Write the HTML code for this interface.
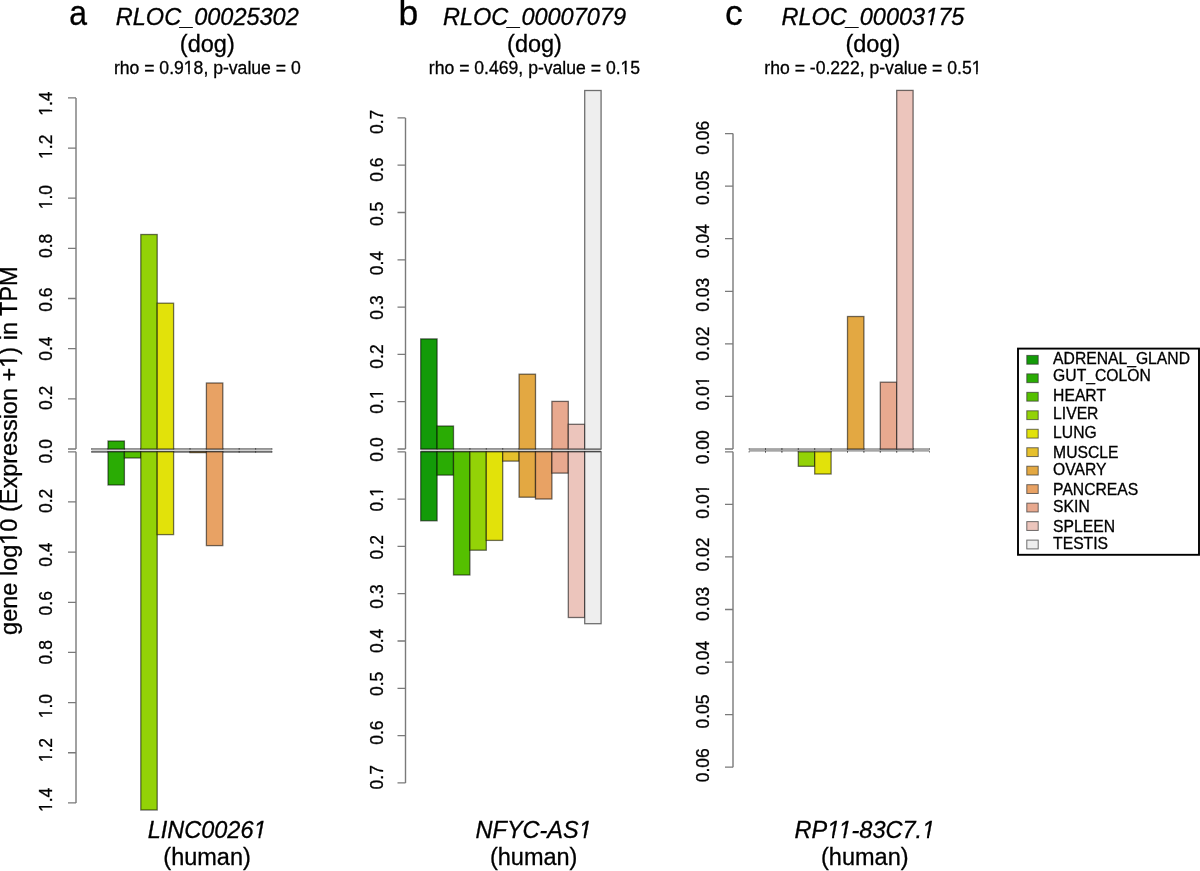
<!DOCTYPE html><html><head><meta charset="utf-8"><style>html,body{margin:0;padding:0;background:#fff;}svg{display:block;will-change:transform;}text{font-family:"Liberation Sans",sans-serif;fill:#000;stroke:#000;stroke-width:0.3px;}</style></head><body>
<svg width="1200" height="871" viewBox="0 0 1200 871">
<rect x="0" y="0" width="1200" height="871" fill="#fff"/>
<text transform="translate(17.3,450.6) rotate(-90)" text-anchor="middle" font-size="23.5">gene log10 (Expression +1) in TPM</text>
<path d="M76.00,97.88V449.00M76.00,451.80V802.92" stroke="#7a7a7a" stroke-width="1.4" fill="none"/>
<path d="M68.00,449.00H76.00M68.00,451.80H76.00M68.00,398.84H76.00M68.00,501.96H76.00M68.00,348.68H76.00M68.00,552.12H76.00M68.00,298.52H76.00M68.00,602.28H76.00M68.00,248.36H76.00M68.00,652.44H76.00M68.00,198.20H76.00M68.00,702.60H76.00M68.00,148.04H76.00M68.00,752.76H76.00M68.00,97.88H76.00M68.00,802.92H76.00" stroke="#7a7a7a" stroke-width="1.3" fill="none"/>
<text transform="translate(52.00,451.30) rotate(-90)" text-anchor="middle" font-size="17.5">0.0</text>
<text transform="translate(52.00,397.90) rotate(-90)" text-anchor="middle" font-size="17.5">0.2</text>
<text transform="translate(52.00,500.90) rotate(-90)" text-anchor="middle" font-size="17.5">0.2</text>
<text transform="translate(52.00,348.60) rotate(-90)" text-anchor="middle" font-size="17.5">0.4</text>
<text transform="translate(52.00,554.70) rotate(-90)" text-anchor="middle" font-size="17.5">0.4</text>
<text transform="translate(52.00,299.70) rotate(-90)" text-anchor="middle" font-size="17.5">0.6</text>
<text transform="translate(52.00,603.30) rotate(-90)" text-anchor="middle" font-size="17.5">0.6</text>
<text transform="translate(52.00,245.90) rotate(-90)" text-anchor="middle" font-size="17.5">0.8</text>
<text transform="translate(52.00,652.30) rotate(-90)" text-anchor="middle" font-size="17.5">0.8</text>
<text transform="translate(52.00,197.10) rotate(-90)" text-anchor="middle" font-size="17.5">1.0</text>
<text transform="translate(52.00,706.10) rotate(-90)" text-anchor="middle" font-size="17.5">1.0</text>
<text transform="translate(52.00,146.80) rotate(-90)" text-anchor="middle" font-size="17.5">1.2</text>
<text transform="translate(52.00,750.20) rotate(-90)" text-anchor="middle" font-size="17.5">1.2</text>
<text transform="translate(52.00,103.70) rotate(-90)" text-anchor="middle" font-size="17.5">1.4</text>
<text transform="translate(52.00,799.90) rotate(-90)" text-anchor="middle" font-size="17.5">1.4</text>
<path d="M91.60,449.00H272.00" stroke="#707070" stroke-width="1.6" fill="none"/>
<path d="M91.60,451.90H272.00" stroke="#6e6e6e" stroke-width="1.6" fill="none"/>
<path d="M91.60,448.20V449.80M108.00,448.20V449.80M124.40,448.20V449.80M140.80,448.20V449.80M173.60,448.20V449.80M190.00,448.20V449.80M190.00,448.20V449.80M206.40,448.20V449.80M222.80,448.20V449.80M239.20,448.20V449.80M239.20,448.20V449.80M255.60,448.20V449.80M255.60,448.20V449.80M272.00,448.20V449.80M91.60,451.00V452.60M108.00,451.00V452.60M173.60,451.00V452.60M190.00,451.00V452.60M222.80,451.00V452.60M239.20,451.00V452.60M239.20,451.00V452.60M255.60,451.00V452.60M255.60,451.00V452.60M272.00,451.00V452.60" stroke="#333" stroke-opacity="0.6" stroke-width="1" fill="none"/>
<rect x="108.00" y="441.00" width="16.40" height="8.00" fill="#2AAC04" stroke="#000" stroke-opacity="0.55" stroke-width="1.3"/>
<rect x="108.00" y="451.80" width="16.40" height="33.20" fill="#2AAC04" stroke="#000" stroke-opacity="0.55" stroke-width="1.3"/>
<rect x="124.40" y="451.80" width="16.40" height="6.20" fill="#55C000" stroke="#000" stroke-opacity="0.55" stroke-width="1.3"/>
<rect x="140.80" y="234.50" width="16.40" height="214.50" fill="#93D207" stroke="#000" stroke-opacity="0.55" stroke-width="1.3"/>
<rect x="140.80" y="451.80" width="16.40" height="358.20" fill="#93D207" stroke="#000" stroke-opacity="0.55" stroke-width="1.3"/>
<rect x="157.20" y="303.20" width="16.40" height="145.80" fill="#E2E20A" stroke="#000" stroke-opacity="0.55" stroke-width="1.3"/>
<rect x="157.20" y="451.80" width="16.40" height="82.80" fill="#E2E20A" stroke="#000" stroke-opacity="0.55" stroke-width="1.3"/>
<rect x="190.00" y="451.80" width="16.40" height="0.80" fill="#E3A842" stroke="#000" stroke-opacity="0.55" stroke-width="1.3"/>
<rect x="206.40" y="383.00" width="16.40" height="66.00" fill="#E8A264" stroke="#000" stroke-opacity="0.55" stroke-width="1.3"/>
<rect x="206.40" y="451.80" width="16.40" height="93.80" fill="#E8A264" stroke="#000" stroke-opacity="0.55" stroke-width="1.3"/>
<rect x="91.60" y="449.8" width="180.40" height="1.2" fill="#d2d2d2"/>
<text transform="translate(69.20,25.3) scale(0.9,1)" font-size="35.5">a</text>
<text x="207.30" y="24.6" text-anchor="middle" font-size="23.5" font-style="italic">RLOC_00025302</text>
<text x="207.30" y="51.9" text-anchor="middle" font-size="23.5">(dog)</text>
<text x="207.30" y="74" text-anchor="middle" font-size="17.6">rho = 0.918, p-value = 0</text>
<text x="207.10" y="838" text-anchor="middle" font-size="23.5" font-style="italic">LINC00261</text>
<text x="207.10" y="865" text-anchor="middle" font-size="23.5">(human)</text>
<path d="M405.50,117.90V449.00M405.50,451.80V782.90" stroke="#7a7a7a" stroke-width="1.4" fill="none"/>
<path d="M397.50,449.00H405.50M397.50,451.80H405.50M397.50,401.70H405.50M397.50,499.10H405.50M397.50,354.40H405.50M397.50,546.40H405.50M397.50,307.10H405.50M397.50,593.70H405.50M397.50,259.80H405.50M397.50,641.00H405.50M397.50,212.50H405.50M397.50,688.30H405.50M397.50,165.20H405.50M397.50,735.60H405.50M397.50,117.90H405.50M397.50,782.90H405.50" stroke="#7a7a7a" stroke-width="1.3" fill="none"/>
<text transform="translate(383.00,449.50) rotate(-90)" text-anchor="middle" font-size="17.5">0.0</text>
<text transform="translate(383.00,401.50) rotate(-90)" text-anchor="middle" font-size="17.5">0.1</text>
<text transform="translate(383.00,499.30) rotate(-90)" text-anchor="middle" font-size="17.5">0.1</text>
<text transform="translate(383.00,356.50) rotate(-90)" text-anchor="middle" font-size="17.5">0.2</text>
<text transform="translate(383.00,547.30) rotate(-90)" text-anchor="middle" font-size="17.5">0.2</text>
<text transform="translate(383.00,307.50) rotate(-90)" text-anchor="middle" font-size="17.5">0.3</text>
<text transform="translate(383.00,596.50) rotate(-90)" text-anchor="middle" font-size="17.5">0.3</text>
<text transform="translate(383.00,263.20) rotate(-90)" text-anchor="middle" font-size="17.5">0.4</text>
<text transform="translate(383.00,640.90) rotate(-90)" text-anchor="middle" font-size="17.5">0.4</text>
<text transform="translate(383.00,213.90) rotate(-90)" text-anchor="middle" font-size="17.5">0.5</text>
<text transform="translate(383.00,683.90) rotate(-90)" text-anchor="middle" font-size="17.5">0.5</text>
<text transform="translate(383.00,169.70) rotate(-90)" text-anchor="middle" font-size="17.5">0.6</text>
<text transform="translate(383.00,732.70) rotate(-90)" text-anchor="middle" font-size="17.5">0.6</text>
<text transform="translate(383.00,121.90) rotate(-90)" text-anchor="middle" font-size="17.5">0.7</text>
<text transform="translate(383.00,777.30) rotate(-90)" text-anchor="middle" font-size="17.5">0.7</text>
<path d="M420.70,449.00H601.10" stroke="#707070" stroke-width="1.6" fill="none"/>
<path d="M420.70,451.90H601.10" stroke="#6e6e6e" stroke-width="1.6" fill="none"/>
<path d="M453.50,448.20V449.80M469.90,448.20V449.80M469.90,448.20V449.80M486.30,448.20V449.80M486.30,448.20V449.80M502.70,448.20V449.80M502.70,448.20V449.80M519.10,448.20V449.80M535.50,448.20V449.80M551.90,448.20V449.80" stroke="#333" stroke-opacity="0.6" stroke-width="1" fill="none"/>
<rect x="420.70" y="338.90" width="16.40" height="110.10" fill="#139B08" stroke="#000" stroke-opacity="0.55" stroke-width="1.3"/>
<rect x="420.70" y="451.80" width="16.40" height="69.00" fill="#139B08" stroke="#000" stroke-opacity="0.55" stroke-width="1.3"/>
<rect x="437.10" y="426.00" width="16.40" height="23.00" fill="#2AAC04" stroke="#000" stroke-opacity="0.55" stroke-width="1.3"/>
<rect x="437.10" y="451.80" width="16.40" height="23.30" fill="#2AAC04" stroke="#000" stroke-opacity="0.55" stroke-width="1.3"/>
<rect x="453.50" y="451.80" width="16.40" height="123.20" fill="#55C000" stroke="#000" stroke-opacity="0.55" stroke-width="1.3"/>
<rect x="469.90" y="451.80" width="16.40" height="98.40" fill="#93D207" stroke="#000" stroke-opacity="0.55" stroke-width="1.3"/>
<rect x="486.30" y="451.80" width="16.40" height="88.60" fill="#E2E20A" stroke="#000" stroke-opacity="0.55" stroke-width="1.3"/>
<rect x="502.70" y="451.80" width="16.40" height="9.30" fill="#E6C02C" stroke="#000" stroke-opacity="0.55" stroke-width="1.3"/>
<rect x="519.10" y="374.20" width="16.40" height="74.80" fill="#E3A842" stroke="#000" stroke-opacity="0.55" stroke-width="1.3"/>
<rect x="519.10" y="451.80" width="16.40" height="45.40" fill="#E3A842" stroke="#000" stroke-opacity="0.55" stroke-width="1.3"/>
<rect x="535.50" y="451.80" width="16.40" height="47.20" fill="#E8A264" stroke="#000" stroke-opacity="0.55" stroke-width="1.3"/>
<rect x="551.90" y="401.40" width="16.40" height="47.60" fill="#E8A98F" stroke="#000" stroke-opacity="0.55" stroke-width="1.3"/>
<rect x="551.90" y="451.80" width="16.40" height="21.30" fill="#E8A98F" stroke="#000" stroke-opacity="0.55" stroke-width="1.3"/>
<rect x="568.30" y="424.30" width="16.40" height="24.70" fill="#ECC5BC" stroke="#000" stroke-opacity="0.55" stroke-width="1.3"/>
<rect x="568.30" y="451.80" width="16.40" height="165.70" fill="#ECC5BC" stroke="#000" stroke-opacity="0.55" stroke-width="1.3"/>
<rect x="584.70" y="90.50" width="16.40" height="358.50" fill="#EEEEEE" stroke="#000" stroke-opacity="0.55" stroke-width="1.3"/>
<rect x="584.70" y="451.80" width="16.40" height="171.90" fill="#EEEEEE" stroke="#000" stroke-opacity="0.55" stroke-width="1.3"/>
<rect x="420.70" y="449.8" width="180.40" height="1.2" fill="#d2d2d2"/>
<text transform="translate(398.50,25.3) scale(1.0,1)" font-size="35.5">b</text>
<text x="534.50" y="24.6" text-anchor="middle" font-size="23.5" font-style="italic">RLOC_00007079</text>
<text x="534.50" y="51.9" text-anchor="middle" font-size="23.5">(dog)</text>
<text x="534.50" y="74" text-anchor="middle" font-size="17.6">rho = 0.469, p-value = 0.15</text>
<text x="533.70" y="838" text-anchor="middle" font-size="23.5" font-style="italic">NFYC-AS1</text>
<text x="533.70" y="865" text-anchor="middle" font-size="23.5">(human)</text>
<path d="M733.00,133.58V449.00M733.00,451.80V767.22" stroke="#7a7a7a" stroke-width="1.4" fill="none"/>
<path d="M725.00,449.00H733.00M725.00,451.80H733.00M725.00,396.43H733.00M725.00,504.37H733.00M725.00,343.86H733.00M725.00,556.94H733.00M725.00,291.29H733.00M725.00,609.51H733.00M725.00,238.72H733.00M725.00,662.08H733.00M725.00,186.15H733.00M725.00,714.65H733.00M725.00,133.58H733.00M725.00,767.22H733.00" stroke="#7a7a7a" stroke-width="1.3" fill="none"/>
<text transform="translate(709.00,447.30) rotate(-90)" text-anchor="middle" font-size="17.5">0.00</text>
<text transform="translate(709.00,393.50) rotate(-90)" text-anchor="middle" font-size="17.5">0.01</text>
<text transform="translate(709.00,501.60) rotate(-90)" text-anchor="middle" font-size="17.5">0.01</text>
<text transform="translate(709.00,343.60) rotate(-90)" text-anchor="middle" font-size="17.5">0.02</text>
<text transform="translate(709.00,554.50) rotate(-90)" text-anchor="middle" font-size="17.5">0.02</text>
<text transform="translate(709.00,294.80) rotate(-90)" text-anchor="middle" font-size="17.5">0.03</text>
<text transform="translate(709.00,603.90) rotate(-90)" text-anchor="middle" font-size="17.5">0.03</text>
<text transform="translate(709.00,241.10) rotate(-90)" text-anchor="middle" font-size="17.5">0.04</text>
<text transform="translate(709.00,657.90) rotate(-90)" text-anchor="middle" font-size="17.5">0.04</text>
<text transform="translate(709.00,187.90) rotate(-90)" text-anchor="middle" font-size="17.5">0.05</text>
<text transform="translate(709.00,711.50) rotate(-90)" text-anchor="middle" font-size="17.5">0.05</text>
<text transform="translate(709.00,137.70) rotate(-90)" text-anchor="middle" font-size="17.5">0.06</text>
<text transform="translate(709.00,765.30) rotate(-90)" text-anchor="middle" font-size="17.5">0.06</text>
<rect x="749.10" y="448.1" width="180.40" height="3.6" fill="#a6a6a6"/>
<path d="M749.10,448.20V449.80M765.50,448.20V449.80M765.50,448.20V449.80M781.90,448.20V449.80M781.90,448.20V449.80M798.30,448.20V449.80M798.30,448.20V449.80M814.70,448.20V449.80M814.70,448.20V449.80M831.10,448.20V449.80M831.10,448.20V449.80M847.50,448.20V449.80M863.90,448.20V449.80M880.30,448.20V449.80M913.10,448.20V449.80M929.50,448.20V449.80M749.10,451.00V452.60M765.50,451.00V452.60M765.50,451.00V452.60M781.90,451.00V452.60M781.90,451.00V452.60M798.30,451.00V452.60M831.10,451.00V452.60M847.50,451.00V452.60M847.50,451.00V452.60M863.90,451.00V452.60M863.90,451.00V452.60M880.30,451.00V452.60M880.30,451.00V452.60M896.70,451.00V452.60M896.70,451.00V452.60M913.10,451.00V452.60M913.10,451.00V452.60M929.50,451.00V452.60" stroke="#333" stroke-opacity="0.6" stroke-width="1" fill="none"/>
<rect x="798.30" y="451.80" width="16.40" height="14.50" fill="#93D207" stroke="#000" stroke-opacity="0.55" stroke-width="1.3"/>
<rect x="814.70" y="451.80" width="16.40" height="22.20" fill="#E2E20A" stroke="#000" stroke-opacity="0.55" stroke-width="1.3"/>
<rect x="847.50" y="316.50" width="16.40" height="132.50" fill="#E3A842" stroke="#000" stroke-opacity="0.55" stroke-width="1.3"/>
<rect x="880.30" y="382.20" width="16.40" height="66.80" fill="#E8A98F" stroke="#000" stroke-opacity="0.55" stroke-width="1.3"/>
<rect x="896.70" y="90.40" width="16.40" height="358.60" fill="#ECC5BC" stroke="#000" stroke-opacity="0.55" stroke-width="1.3"/>
<text transform="translate(725.00,25.3) scale(1.0,1)" font-size="35.5">c</text>
<text x="872.90" y="24.6" text-anchor="middle" font-size="23.5" font-style="italic">RLOC_00003175</text>
<text x="872.90" y="51.9" text-anchor="middle" font-size="23.5">(dog)</text>
<text x="872.90" y="74" text-anchor="middle" font-size="17.6">rho = -0.222, p-value = 0.51</text>
<text x="864.80" y="838" text-anchor="middle" font-size="23.5" font-style="italic">RP11-83C7.1</text>
<text x="864.80" y="865" text-anchor="middle" font-size="23.5">(human)</text>
<rect x="1018.0" y="348.6" width="181.0" height="206.2" fill="#fff" stroke="#000" stroke-width="1.9"/>
<rect x="1026.8" y="355.40" width="11.4" height="8.8" fill="#139B08" stroke="#333" stroke-opacity="0.7" stroke-width="1"/>
<text x="1053.1" y="363.70" font-size="15.7">ADRENAL_GLAND</text>
<rect x="1026.8" y="373.87" width="11.4" height="8.8" fill="#2AAC04" stroke="#333" stroke-opacity="0.7" stroke-width="1"/>
<text x="1053.1" y="380.90" font-size="15.7">GUT_COLON</text>
<rect x="1026.8" y="392.34" width="11.4" height="8.8" fill="#55C000" stroke="#333" stroke-opacity="0.7" stroke-width="1"/>
<text x="1053.1" y="400.50" font-size="15.7">HEART</text>
<rect x="1026.8" y="410.81" width="11.4" height="8.8" fill="#93D207" stroke="#333" stroke-opacity="0.7" stroke-width="1"/>
<text x="1053.1" y="418.70" font-size="15.7">LIVER</text>
<rect x="1026.8" y="429.28" width="11.4" height="8.8" fill="#E2E20A" stroke="#333" stroke-opacity="0.7" stroke-width="1"/>
<text x="1053.1" y="438.30" font-size="15.7">LUNG</text>
<rect x="1026.8" y="447.75" width="11.4" height="8.8" fill="#E6C02C" stroke="#333" stroke-opacity="0.7" stroke-width="1"/>
<text x="1053.1" y="457.60" font-size="15.7">MUSCLE</text>
<rect x="1026.8" y="466.22" width="11.4" height="8.8" fill="#E3A842" stroke="#333" stroke-opacity="0.7" stroke-width="1"/>
<text x="1053.1" y="475.40" font-size="15.7">OVARY</text>
<rect x="1026.8" y="484.69" width="11.4" height="8.8" fill="#E8A264" stroke="#333" stroke-opacity="0.7" stroke-width="1"/>
<text x="1053.1" y="494.80" font-size="15.7">PANCREAS</text>
<rect x="1026.8" y="503.16" width="11.4" height="8.8" fill="#E8A98F" stroke="#333" stroke-opacity="0.7" stroke-width="1"/>
<text x="1053.1" y="512.40" font-size="15.7">SKIN</text>
<rect x="1026.8" y="521.63" width="11.4" height="8.8" fill="#ECC5BC" stroke="#333" stroke-opacity="0.7" stroke-width="1"/>
<text x="1053.1" y="531.60" font-size="15.7">SPLEEN</text>
<rect x="1026.8" y="540.10" width="11.4" height="8.8" fill="#EEEEEE" stroke="#333" stroke-opacity="0.7" stroke-width="1"/>
<text x="1053.1" y="549.00" font-size="15.7">TESTIS</text>
<g transform="translate(17.3,450.6) rotate(-90)"><polygon points="-93.55,1.50 -93.55,-2.56 -88.23,-2.56 -88.23,1.50" fill="#fff"/><polygon points="-86.15,1.50 -86.15,-2.56 -81.02,-2.56 -81.02,1.50" fill="#fff"/><polygon points="83.45,1.50 83.45,-2.56 88.77,-2.56 88.77,1.50" fill="#fff"/><polygon points="90.85,1.50 90.85,-2.56 95.98,-2.56 95.98,1.50" fill="#fff"/></g>
<g transform="translate(52.00,197.10) rotate(-90)"><polygon points="-12.03,1.50 -12.03,-2.11 -7.76,-2.11 -7.76,1.50" fill="#fff"/><polygon points="-6.22,1.50 -6.22,-2.11 -2.09,-2.11 -2.09,1.50" fill="#fff"/></g>
<g transform="translate(52.00,706.10) rotate(-90)"><polygon points="-12.03,1.50 -12.03,-2.11 -7.76,-2.11 -7.76,1.50" fill="#fff"/><polygon points="-6.22,1.50 -6.22,-2.11 -2.09,-2.11 -2.09,1.50" fill="#fff"/></g>
<g transform="translate(52.00,146.80) rotate(-90)"><polygon points="-12.03,1.50 -12.03,-2.11 -7.76,-2.11 -7.76,1.50" fill="#fff"/><polygon points="-6.22,1.50 -6.22,-2.11 -2.09,-2.11 -2.09,1.50" fill="#fff"/></g>
<g transform="translate(52.00,750.20) rotate(-90)"><polygon points="-12.03,1.50 -12.03,-2.11 -7.76,-2.11 -7.76,1.50" fill="#fff"/><polygon points="-6.22,1.50 -6.22,-2.11 -2.09,-2.11 -2.09,1.50" fill="#fff"/></g>
<g transform="translate(52.00,103.70) rotate(-90)"><polygon points="-12.03,1.50 -12.03,-2.11 -7.76,-2.11 -7.76,1.50" fill="#fff"/><polygon points="-6.22,1.50 -6.22,-2.11 -2.09,-2.11 -2.09,1.50" fill="#fff"/></g>
<g transform="translate(52.00,799.90) rotate(-90)"><polygon points="-12.03,1.50 -12.03,-2.11 -7.76,-2.11 -7.76,1.50" fill="#fff"/><polygon points="-6.22,1.50 -6.22,-2.11 -2.09,-2.11 -2.09,1.50" fill="#fff"/></g>
<polygon points="183.95,75.50 183.95,71.89 188.23,71.89 188.23,75.50" fill="#fff"/><polygon points="189.79,75.50 189.79,71.89 193.94,71.89 193.94,75.50" fill="#fff"/>
<polygon points="252.88,839.50 253.22,835.44 258.54,835.44 258.19,839.50" fill="#fff"/><polygon points="260.27,839.50 260.62,835.44 265.75,835.44 265.41,839.50" fill="#fff"/>
<g transform="translate(383.00,401.50) rotate(-90)"><polygon points="2.56,1.50 2.56,-2.11 6.83,-2.11 6.83,1.50" fill="#fff"/><polygon points="8.38,1.50 8.38,-2.11 12.51,-2.11 12.51,1.50" fill="#fff"/></g>
<g transform="translate(383.00,499.30) rotate(-90)"><polygon points="2.56,1.50 2.56,-2.11 6.83,-2.11 6.83,1.50" fill="#fff"/><polygon points="8.38,1.50 8.38,-2.11 12.51,-2.11 12.51,1.50" fill="#fff"/></g>
<polygon points="620.70,75.50 620.70,71.89 624.99,71.89 624.99,75.50" fill="#fff"/><polygon points="626.54,75.50 626.54,71.89 630.69,71.89 630.69,75.50" fill="#fff"/>
<polygon points="578.14,839.50 578.48,835.44 583.80,835.44 583.46,839.50" fill="#fff"/><polygon points="585.54,839.50 585.88,835.44 591.02,835.44 590.67,839.50" fill="#fff"/>
<g transform="translate(709.00,393.50) rotate(-90)"><polygon points="7.41,1.50 7.41,-2.11 11.68,-2.11 11.68,1.50" fill="#fff"/><polygon points="13.23,1.50 13.23,-2.11 17.36,-2.11 17.36,1.50" fill="#fff"/></g>
<g transform="translate(709.00,501.60) rotate(-90)"><polygon points="7.41,1.50 7.41,-2.11 11.68,-2.11 11.68,1.50" fill="#fff"/><polygon points="13.23,1.50 13.23,-2.11 17.36,-2.11 17.36,1.50" fill="#fff"/></g>
<polygon points="924.55,26.10 924.89,22.04 930.21,22.04 929.87,26.10" fill="#fff"/><polygon points="931.95,26.10 932.29,22.04 937.43,22.04 937.08,26.10" fill="#fff"/>
<polygon points="971.81,75.50 971.81,71.89 976.10,71.89 976.10,75.50" fill="#fff"/><polygon points="977.65,75.50 977.65,71.89 981.80,71.89 981.80,75.50" fill="#fff"/>
<polygon points="826.52,839.50 826.86,835.44 832.18,835.44 831.84,839.50" fill="#fff"/><polygon points="833.92,839.50 834.26,835.44 839.40,835.44 839.05,839.50" fill="#fff"/><polygon points="837.85,839.50 838.19,835.44 843.51,835.44 843.17,839.50" fill="#fff"/><polygon points="845.25,839.50 845.59,835.44 850.73,835.44 850.38,839.50" fill="#fff"/><polygon points="921.44,839.50 921.79,835.44 927.11,835.44 926.76,839.50" fill="#fff"/><polygon points="928.84,839.50 929.18,835.44 934.32,835.44 933.97,839.50" fill="#fff"/>
</svg></body></html>
